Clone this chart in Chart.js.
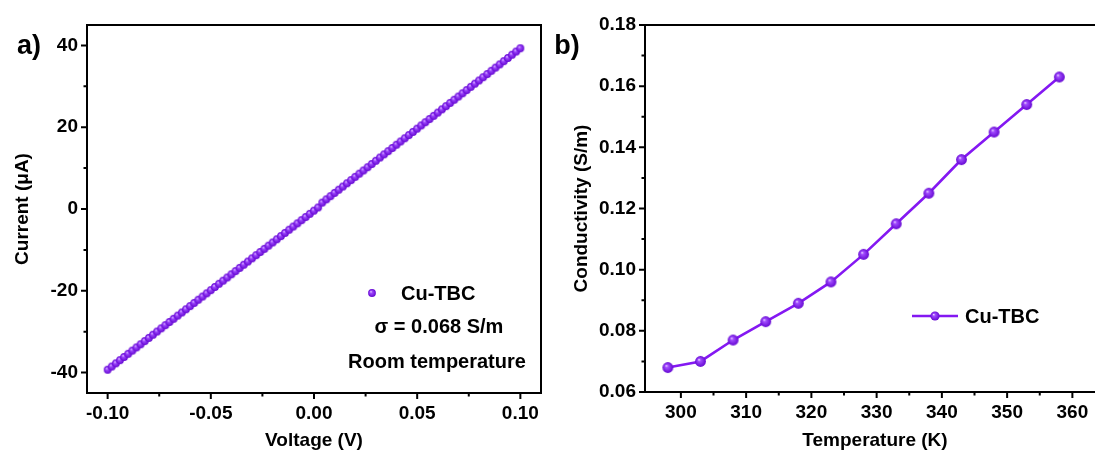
<!DOCTYPE html>
<html>
<head>
<meta charset="utf-8">
<title>Cu-TBC I-V and conductivity</title>
<script src="https://cdn.jsdelivr.net/npm/chart.js"></script>
<style>
  html, body { margin: 0; padding: 0; background: #fff; overflow: hidden; }
  #wrap { position: relative; width: 1095px; height: 457px; overflow: hidden; }
  canvas { position: absolute; top: 0; }
  #chartA { left: 0; }
  #chartB { left: 550px; }
</style>
</head>
<body>
<div id="wrap">
  <canvas id="chartA" width="560" height="457"></canvas>
  <canvas id="chartB" width="570" height="457"></canvas>
</div>
<script>
// panel a) I-V sweep at room temperature
const voltage = [
  -0.100, -0.098, -0.096, -0.094, -0.092, -0.090, -0.088, -0.086, -0.084, -0.082,
  -0.080, -0.078, -0.076, -0.074, -0.072, -0.070, -0.068, -0.066, -0.064, -0.062,
  -0.060, -0.058, -0.056, -0.054, -0.052, -0.050, -0.048, -0.046, -0.044, -0.042,
  -0.040, -0.038, -0.036, -0.034, -0.032, -0.030, -0.028, -0.026, -0.024, -0.022,
  -0.020, -0.018, -0.016, -0.014, -0.012, -0.010, -0.008, -0.006, -0.004, -0.002,
  0.000, 0.002, 0.004, 0.006, 0.008, 0.010, 0.012, 0.014, 0.016, 0.018,
  0.020, 0.022, 0.024, 0.026, 0.028, 0.030, 0.032, 0.034, 0.036, 0.038,
  0.040, 0.042, 0.044, 0.046, 0.048, 0.050, 0.052, 0.054, 0.056, 0.058,
  0.060, 0.062, 0.064, 0.066, 0.068, 0.070, 0.072, 0.074, 0.076, 0.078,
  0.080, 0.082, 0.084, 0.086, 0.088, 0.090, 0.092, 0.094, 0.096, 0.098,
  0.100
];
const current = [
  -39.30, -38.52, -37.74, -36.97, -36.19, -35.41, -34.63, -33.85, -33.08, -32.30,
  -31.52, -30.74, -29.96, -29.19, -28.41, -27.63, -26.85, -26.07, -25.30, -24.52,
  -23.74, -22.96, -22.18, -21.41, -20.63, -19.85, -19.07, -18.29, -17.52, -16.74,
  -15.96, -15.18, -14.40, -13.63, -12.85, -12.07, -11.29, -10.51, -9.74, -8.96,
  -8.18, -7.40, -6.62, -5.85, -5.07, -4.29, -3.51, -2.73, -1.96, -1.18,
  -0.40, 0.38, 1.57, 2.36, 3.14, 3.93, 4.72, 5.50, 6.29, 7.07,
  7.86, 8.65, 9.43, 10.22, 11.00, 11.79, 12.58, 13.36, 14.15, 14.93,
  15.72, 16.51, 17.29, 18.08, 18.86, 19.65, 20.44, 21.22, 22.01, 22.79,
  23.58, 24.37, 25.15, 25.94, 26.72, 27.51, 28.30, 29.08, 29.87, 30.65,
  31.44, 32.23, 33.01, 33.80, 34.58, 35.37, 36.16, 36.94, 37.73, 38.51,
  39.30
];
const xTicksA = [-0.10, -0.05, 0.00, 0.05, 0.10];
const xMinorA = [-0.075, -0.025, 0.025, 0.075];
const yTicksA = [-40, -20, 0, 20, 40];
const yMinorA = [-30, -10, 10, 30];

// panel b) conductivity against temperature
const temperature = [298, 303, 308, 313, 318, 323, 328, 333, 338, 343, 348, 353, 358];
const conductivity = [0.068, 0.070, 0.077, 0.083, 0.089, 0.096, 0.105, 0.115, 0.125, 0.136, 0.145, 0.154, 0.163];
const xTicksB = [300, 310, 320, 330, 340, 350, 360];
const xMinorB = [305, 315, 325, 335, 345, 355];
const yTicksB = [0.06, 0.08, 0.10, 0.12, 0.14, 0.16, 0.18];
const yMinorB = [0.07, 0.09, 0.11, 0.13, 0.15, 0.17];

const PURPLE = '#8418f2';
const FAMILY = "'Liberation Sans', Arial, sans-serif";
const tickFont = { family: FAMILY, size: 19, weight: 'bold' };
const titleFont = { family: FAMILY, size: 19, weight: 'bold' };

// shiny sphere marker like the Origin plot
function makeBall(r) {
  const s = Math.ceil(r * 2 + 2);
  const c = document.createElement('canvas');
  c.width = s; c.height = s;
  const g = c.getContext('2d');
  const cx = s / 2, cy = s / 2;
  const grad = g.createRadialGradient(cx - r * 0.3, cy - r * 0.35, 0, cx, cy, r);
  grad.addColorStop(0, '#f6ecff');
  grad.addColorStop(0.28, '#a24cff');
  grad.addColorStop(1, '#6508d2');
  g.fillStyle = grad;
  g.beginPath();
  g.arc(cx, cy, r, 0, Math.PI * 2);
  g.fill();
  return c;
}
const ballSmall = makeBall(3.9);
const ballBig = makeBall(5.4);
const ballLegend = makeBall(4.6);

// box frame + outward major/minor ticks
const axisFrame = {
  id: 'axisFrame',
  afterDraw(chart, args, o) {
    const { ctx, chartArea: a, scales: { x, y } } = chart;
    ctx.save();
    ctx.strokeStyle = '#000';
    ctx.lineWidth = 2;
    ctx.strokeRect(a.left, a.top, a.right - a.left, a.bottom - a.top);
    ctx.beginPath();
    o.xMajor.forEach(v => { const p = x.getPixelForValue(v); ctx.moveTo(p, a.bottom); ctx.lineTo(p, a.bottom + 6); });
    o.xMinor.forEach(v => { const p = x.getPixelForValue(v); ctx.moveTo(p, a.bottom); ctx.lineTo(p, a.bottom + 3.5); });
    o.yMajor.forEach(v => { const p = y.getPixelForValue(v); ctx.moveTo(a.left, p); ctx.lineTo(a.left - 6, p); });
    o.yMinor.forEach(v => { const p = y.getPixelForValue(v); ctx.moveTo(a.left, p); ctx.lineTo(a.left - 3.5, p); });
    ctx.stroke();
    ctx.restore();
  }
};

// legend and text notes
const notes = {
  id: 'notes',
  afterDraw(chart, args, o) {
    const ctx = chart.ctx;
    ctx.save();
    ctx.fillStyle = '#000';
    ctx.textBaseline = 'middle';
    if (o.legend) {
      const L = o.legend;
      if (L.line) {
        ctx.strokeStyle = PURPLE;
        ctx.lineWidth = 2.5;
        ctx.beginPath();
        ctx.moveTo(L.line[0], L.y);
        ctx.lineTo(L.line[1], L.y);
        ctx.stroke();
      }
      ctx.drawImage(L.ball, L.x - L.ball.width / 2, L.y - L.ball.height / 2);
      ctx.font = 'bold 20px ' + FAMILY;
      ctx.textAlign = 'left';
      ctx.fillText(L.text, L.tx, L.y + 1);
    }
    (o.texts || []).forEach(t => {
      ctx.font = 'bold ' + t.size + 'px ' + FAMILY;
      ctx.textAlign = t.align || 'center';
      ctx.fillText(t.text, t.x, t.y);
    });
    ctx.restore();
  }
};

function scaleOpts(min, max, ticks, fmt, size, title, titlePad) {
  return {
    type: 'linear',
    min: min,
    max: max,
    afterBuildTicks: s => { s.ticks = ticks.map(v => ({ value: v })); },
    afterFit: s => { if (s.isHorizontal()) s.height = size; else s.width = size; },
    grid: { display: false, drawTicks: false },
    border: { display: false },
    ticks: { color: '#000', font: tickFont, padding: 9, autoSkip: false, maxRotation: 0, callback: fmt },
    title: { display: true, text: title, color: '#000', font: titleFont, padding: titlePad }
  };
}

new Chart(document.getElementById('chartA'), {
  type: 'scatter',
  data: {
    datasets: [{
      label: 'Cu-TBC',
      data: voltage.map((v, i) => ({ x: v, y: current[i] })),
      pointStyle: ballSmall,
      pointRadius: 3.9,
      showLine: false
    }]
  },
  options: {
    responsive: false,
    animation: false,
    devicePixelRatio: 1,
    layout: { padding: { top: 25, right: 19, left: 0, bottom: 0 } },
    plugins: {
      legend: { display: false },
      tooltip: { enabled: false },
      axisFrame: { xMajor: xTicksA, xMinor: xMinorA, yMajor: yTicksA, yMinor: yMinorA },
      notes: {
        legend: { ball: ballSmall, x: 372, y: 293, text: 'Cu-TBC', tx: 401 },
        texts: [
          { text: 'a)', x: 29, y: 47, size: 27 },
          { text: 'σ = 0.068 S/m', x: 439, y: 327, size: 20 },
          { text: 'Room temperature', x: 437, y: 362, size: 20 }
        ]
      }
    },
    scales: {
      x: scaleOpts(-0.11, 0.11, xTicksA, v => v.toFixed(2), 64, 'Voltage (V)', { top: 0, bottom: 5 }),
      y: scaleOpts(-45, 45, yTicksA, v => String(v), 87, 'Current (μA)', { top: 11, bottom: 0 })
    }
  },
  plugins: [axisFrame, notes]
});

new Chart(document.getElementById('chartB'), {
  type: 'scatter',
  data: {
    datasets: [{
      label: 'Cu-TBC',
      data: temperature.map((t, i) => ({ x: t, y: conductivity[i] })),
      pointStyle: ballBig,
      pointRadius: 5.4,
      showLine: true,
      borderColor: PURPLE,
      borderWidth: 2.6,
      tension: 0
    }]
  },
  options: {
    responsive: false,
    animation: false,
    devicePixelRatio: 1,
    layout: { padding: { top: 25, right: 15, left: 0, bottom: 0 } },
    plugins: {
      legend: { display: false },
      tooltip: { enabled: false },
      axisFrame: { xMajor: xTicksB, xMinor: xMinorB, yMajor: yTicksB, yMinor: yMinorB },
      notes: {
        legend: { ball: ballLegend, line: [362, 408], x: 385, y: 316, text: 'Cu-TBC', tx: 415 },
        texts: [
          { text: 'b)', x: 17, y: 47, size: 27 }
        ]
      }
    },
    scales: {
      x: scaleOpts(294.5, 365, xTicksB, v => String(v), 65, 'Temperature (K)', { top: 0, bottom: 5 }),
      y: scaleOpts(0.06, 0.18, yTicksB, v => v.toFixed(2), 95, 'Conductivity (S/m)', { top: 20, bottom: 0 })
    }
  },
  plugins: [axisFrame, notes]
});
</script>
</body>
</html>
